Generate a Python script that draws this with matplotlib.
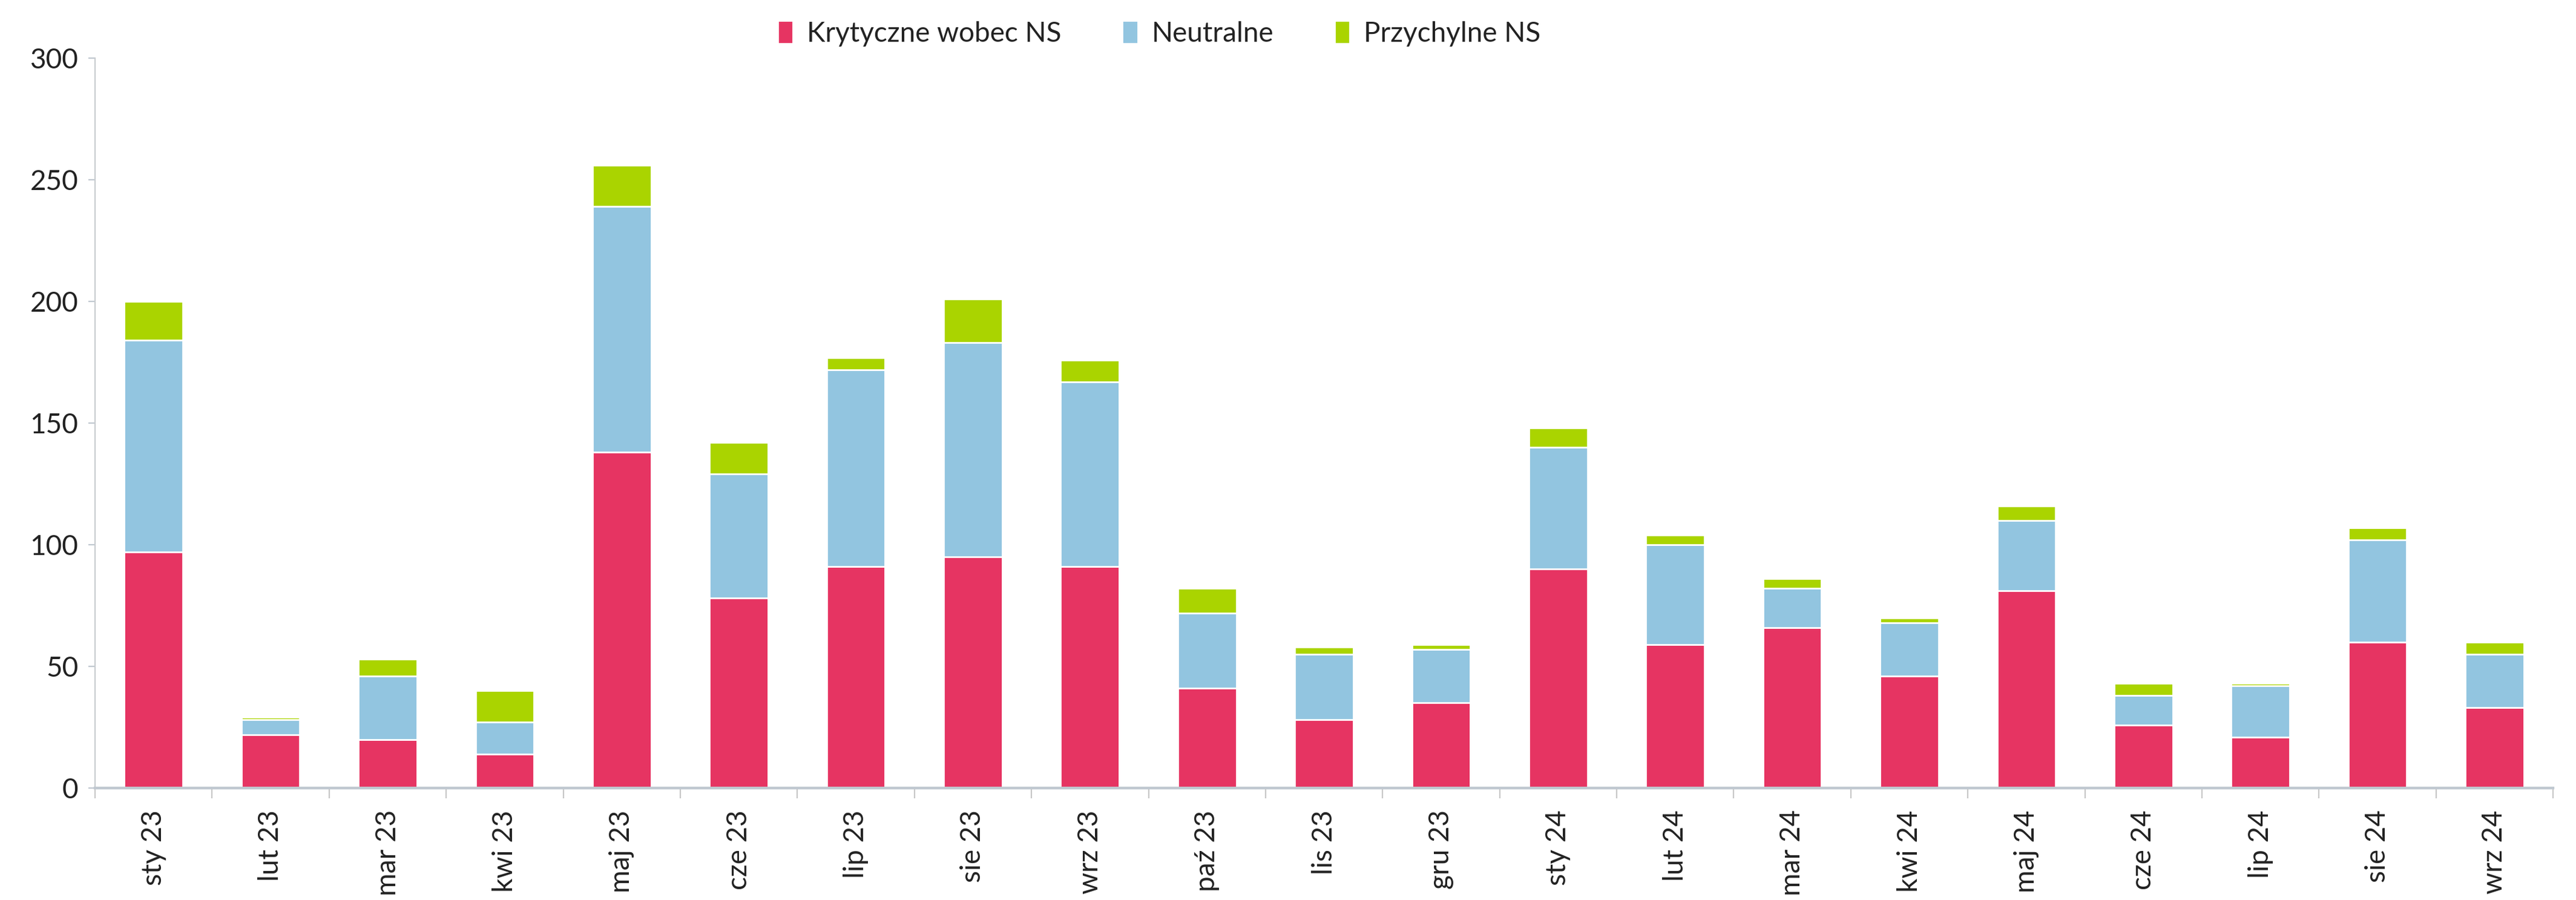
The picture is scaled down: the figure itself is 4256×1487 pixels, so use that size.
import matplotlib
matplotlib.use('Agg')
import matplotlib.pyplot as plt
from matplotlib.patches import Patch
import numpy as np

# monthly counts of articles by tone
months = ['sty 23', 'lut 23', 'mar 23', 'kwi 23', 'maj 23', 'cze 23', 'lip 23',
          'sie 23', 'wrz 23', 'paź 23', 'lis 23', 'gru 23', 'sty 24', 'lut 24',
          'mar 24', 'kwi 24', 'maj 24', 'cze 24', 'lip 24', 'sie 24', 'wrz 24']
krytyczne = [97, 22, 20, 14, 138, 78, 91, 95, 91, 41, 28, 35, 90, 59, 66, 46, 81, 26, 21, 60, 33]
neutralne = [87, 6, 26, 13, 101, 51, 81, 88, 76, 31, 27, 22, 50, 41, 16, 22, 29, 12, 21, 42, 22]
przychylne = [16, 1, 7, 13, 17, 13, 5, 18, 9, 10, 3, 2, 8, 4, 4, 2, 6, 5, 1, 5, 5]

series_names = ['Krytyczne wobec NS', 'Neutralne', 'Przychylne NS']
colors = ['#E63462', '#92C5E0', '#AAD400']

plt.rcParams['font.family'] = ['Lato', 'DejaVu Sans']
text_color = '#222222'

fig = plt.figure(figsize=(21.28, 7.435), dpi=200)
ax = fig.add_axes([0.0369, 0.1244, 0.9542, 0.811])

x = np.arange(len(months))
bottom = np.zeros(len(months))
for vals, name, c in zip([krytyczne, neutralne, przychylne], series_names, colors):
    ax.bar(x, vals, width=0.5, bottom=bottom, color=c, edgecolor='white',
           linewidth=1.0, label=name, zorder=2)
    bottom += np.array(vals)

ax.set_xlim(-0.5, len(months) - 0.5)
ax.set_ylim(0, 300)
ax.set_yticks([0, 50, 100, 150, 200, 250, 300])

ax.set_xticks(x)
ax.set_xticklabels(months, rotation=90)
ax.set_xticks(np.arange(-0.5, len(months), 1.0), minor=True)
ax.tick_params(axis='x', which='major', length=0, pad=13, labelsize=16.5, colors=text_color)
ax.tick_params(axis='x', which='minor', length=6, width=0.8, color='#c8c8c8')
ax.tick_params(axis='y', length=4, width=0.8, color='#c0c8d0', labelsize=16.5, pad=6)
for lab in ax.get_yticklabels():
    lab.set_color(text_color)

for s in ['top', 'right']:
    ax.spines[s].set_visible(False)
ax.spines['left'].set_color('#c8ccd0')
ax.spines['left'].set_linewidth(0.8)
ax.spines['bottom'].set_color('#c0c8d0')
ax.spines['bottom'].set_linewidth(1.6)

handles = [Patch(facecolor=c, edgecolor='white') for c in colors]
fig.legend(handles, series_names, loc='upper center', bbox_to_anchor=(0.45, 1.005),
           ncol=3, frameon=False, fontsize=16.5, handlelength=0.55, handleheight=0.9,
           handletextpad=0.5, columnspacing=2.2, labelcolor=text_color)

fig.savefig('out.png', dpi=200, facecolor='white')
